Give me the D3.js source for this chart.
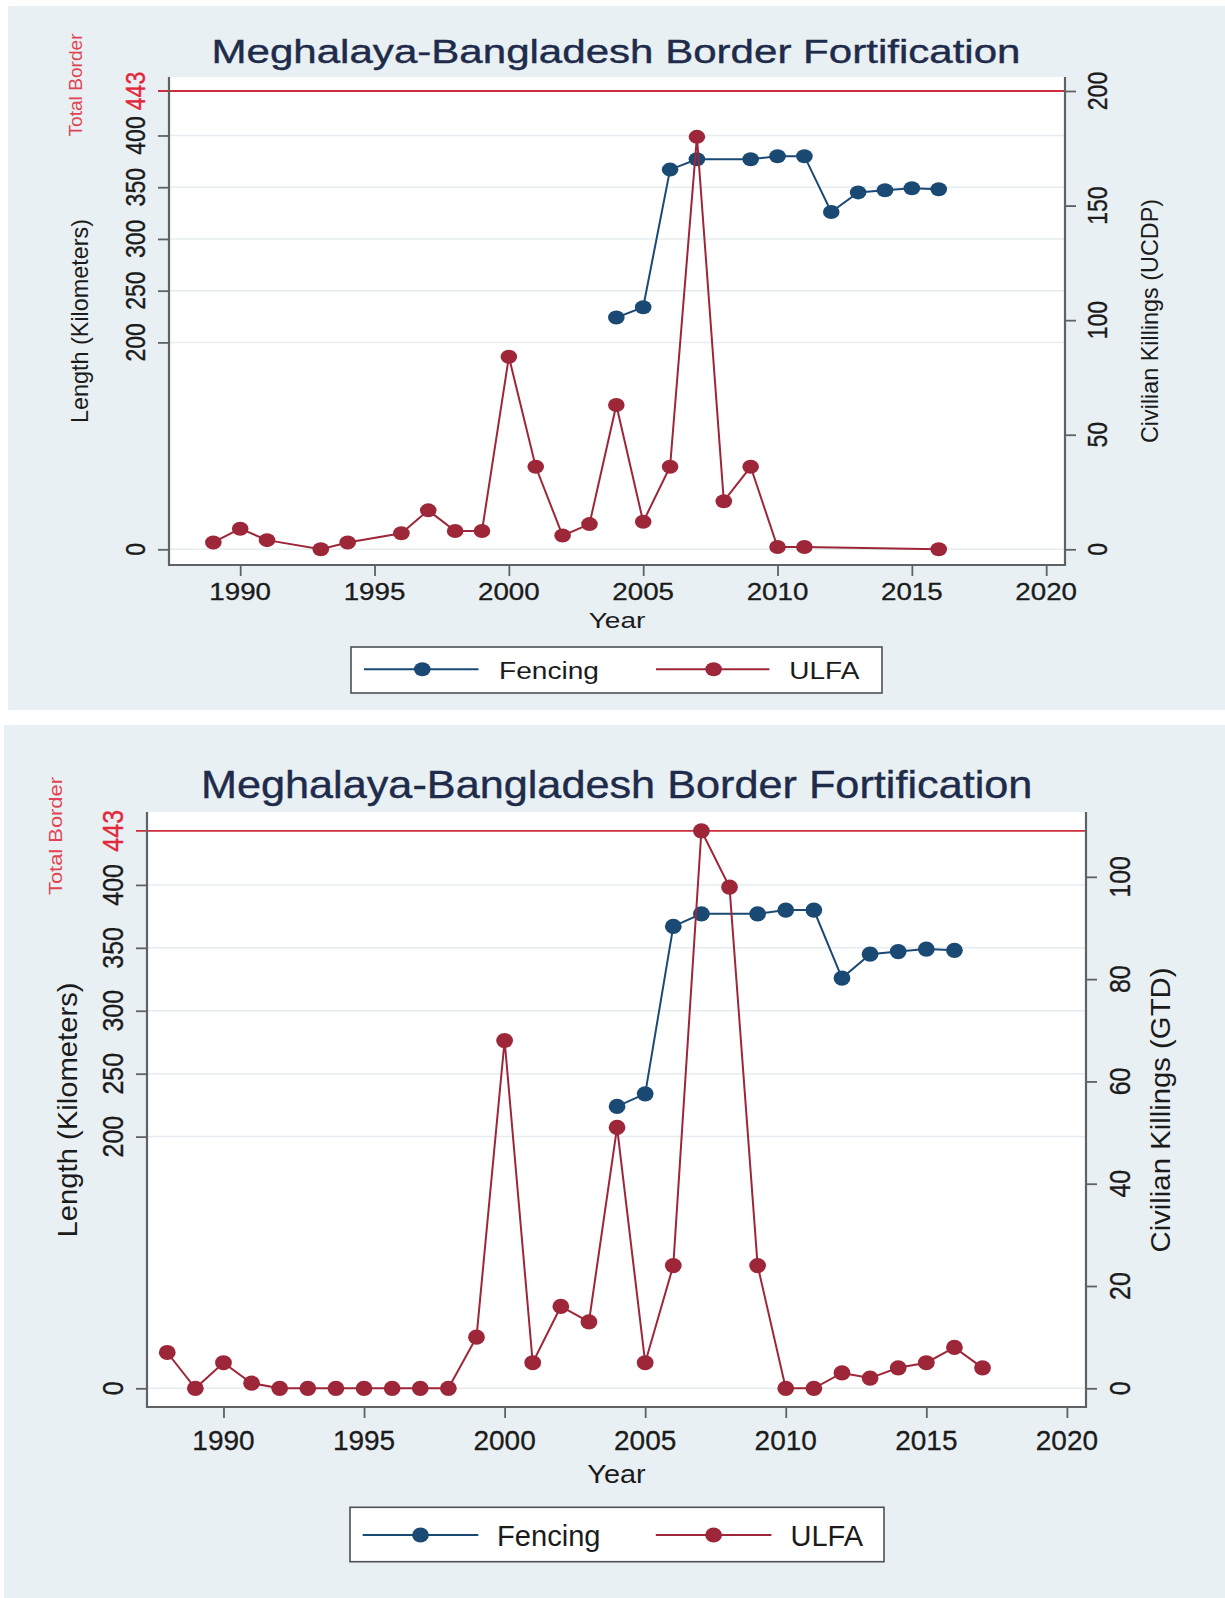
<!DOCTYPE html>
<html><head><meta charset="utf-8">
<script src="https://cdn.jsdelivr.net/npm/d3@7"></script>
<style>
body{margin:0;background:#fff}
svg{display:block}
text{font-family:"Liberation Sans",Arial,Helvetica,sans-serif}
</style>
</head><body>
<svg id="c" width="1225" height="1598"></svg>
<script>
// ---------------- DATA ----------------
const titleText = "Meghalaya-Bangladesh Border Fortification";
const seriesNames = ["Fencing", "ULFA"];

const fenceYears = [2004, 2005, 2006, 2007, 2009, 2010, 2011, 2012, 2013, 2014, 2015, 2016];
const fenceKm    = [224,  234,  367,  377,  377,  380,  380,  326,  345,  347,  349,  348];

const ucdpYears     = [1989,1990,1991,1993,1994,1996,1997,1998,1999,2000,2001,2002,2003,2004,2005,2006,2007,2008,2009,2010,2011,2016];
const ucdpKillings  = [3,   9,   4,   0,   3,   7,   17,  8,   8,   84,  36,  6,   11,  63,  12,  36,  180, 21,  36,  1,   1,   0];

const gtdYears    = [1988,1989,1990,1991,1992,1993,1994,1995,1996,1997,1998,1999,2000,2001,2002,2003,2004,2005,2006,2007,2008,2009,2010,2011,2012,2013,2014,2015,2016,2017];
const gtdKillings = [7,   0,   5,   1,   0,   0,   0,   0,   0,   0,   0,   10,  68,  5,   16,  13,  51,  5,   24,  109, 98,  24,  0,   0,   3,   2,   4,   5,   8,   4];

const kmTicks = [0, 200, 250, 300, 350, 400];
const totalBorderKm = 443;
const totalBorderLabel = "Total Border";
const yearTicks = [1990, 1995, 2000, 2005, 2010, 2015, 2020];
const ucdpTicks = [0, 50, 100, 150, 200];
const gtdTicks  = [0, 20, 40, 60, 80, 100];
const ucdpMax = 200;
const gtdMax = 109;
const leftTitle = "Length (Kilometers)";
const xTitle = "Year";
const ucdpTitle = "Civilian Killings (UCDP)";
const gtdTitle = "Civilian Killings (GTD)";

// ---------------- STYLE ----------------
const BG = "#e9f0f3";
const NAVY = "#1a4a73";
const MAROON = "#9d2638";
const BORDER_RED = "#cc2e3c";
const AXIS = "#5e6265";
const GRID = "#e6ecef";
const TXT = "#1b1b1b";
const TITLE = "#1e2b4a";

const svg = d3.select("#c");

function txt(g, s, o) {
  const t = g.append("text").text(s)
    .attr("transform", `translate(${o.x},${o.y}) scale(${o.sx || 1},1)` + (o.rot ? " rotate(-90)" : ""))
    .attr("font-size", o.size)
    .attr("text-anchor", o.anchor || "middle")
    .attr("fill", o.fill || TXT);
  if (o.dy) t.attr("dy", o.dy);
  if (o.len) t.attr("textLength", o.rot ? o.len : o.len / (o.sx || 1)).attr("lengthAdjust", "spacingAndGlyphs");
  if (o.stroke) t.attr("stroke", o.fill || TXT).attr("stroke-width", o.stroke);
  return t;
}

const panels = [
  {
    bg: [8, 6, 1225, 710], l: 169, r: 1065, t: 77, b: 565,
    xDom: [1987.35, 2020.7], y0: 549.3, yTop: 91, tick: 11,
    title: {x: 211.5, y: 63, size: 34, len: 809},
    xLab: {y: 600, size: 23.3, sx: 1.19},
    year: {x: 617, y: 628.3, size: 22.5, len: 56.7},
    yLab: {xl: 134.4, xr: 1097, size: 23, sx: 1.22},
    tb: {x: 75, y: 85, size: 16.5, len: 103, sx: 1.15},
    lt: {x: 82, y: 321, size: 23.4, len: 204},
    rt: {x: 1152, y: 321, size: 23.4, len: 244},
    leg: {box: [351, 647, 882, 693], ly: 669.3, tyb: 679, size: 23.3,
          items: [{x1: 364, x2: 478.5, mx: 422.3, tx: 499, tlen: 100}, {x1: 656, x2: 769.4, mx: 713.6, tx: 789.3, tlen: 70}]},
    mk: {rx: 8.3, ry: 7}, lw: 2,
    ulfaYears: ucdpYears, ulfaVals: ucdpKillings, rTicks: ucdpTicks, rMax: ucdpMax, rTitle: ucdpTitle
  },
  {
    bg: [4, 725, 1225, 1598], l: 147, r: 1086, t: 812, b: 1407,
    xDom: [1987.28, 2020.68], y0: 1388.3, yTop: 830.8, tick: 11,
    title: {x: 200.9, y: 798.3, size: 39.5, len: 831.5},
    xLab: {y: 1450, size: 28, sx: 1.0},
    year: {x: 616.5, y: 1483.3, size: 26, len: 58.3},
    yLab: {xl: 112.7, xr: 1120, size: 25, sx: 1.15},
    tb: {x: 55.4, y: 836, size: 17.5, len: 118, sx: 1.1},
    lt: {x: 69.2, y: 1110, size: 28.5, len: 255},
    rt: {x: 1162, y: 1110, size: 28.5, len: 285},
    leg: {box: [350, 1507.3, 884, 1561.7], ly: 1535, tyb: 1545.5, size: 29,
          items: [{x1: 362.7, x2: 478.3, mx: 420.5, tx: 497, tlen: 103.5}, {x1: 655.8, x2: 771.4, mx: 713.6, tx: 790.5, tlen: 72.5}]},
    mk: {rx: 8.4, ry: 7.6}, lw: 2,
    ulfaYears: gtdYears, ulfaVals: gtdKillings, rTicks: gtdTicks, rMax: gtdMax, rTitle: gtdTitle
  }
];

panels.forEach(p => {
  const g = svg.append("g");
  g.append("rect").attr("x", p.bg[0]).attr("y", p.bg[1]).attr("width", p.bg[2] - p.bg[0]).attr("height", p.bg[3] - p.bg[1]).attr("fill", BG);
  g.append("rect").attr("x", p.l).attr("y", p.t).attr("width", p.r - p.l).attr("height", p.b - p.t).attr("fill", "#fff");

  const x = d3.scaleLinear().domain(p.xDom).range([p.l, p.r]);
  const yL = d3.scaleLinear().domain([0, totalBorderKm]).range([p.y0, p.yTop]);
  const yR = d3.scaleLinear().domain([0, p.rMax]).range([p.y0, p.yTop]);

  // gridlines
  g.append("g").selectAll("line").data(kmTicks).join("line")
    .attr("x1", p.l).attr("x2", p.r).attr("y1", d => yL(d)).attr("y2", d => yL(d))
    .attr("stroke", GRID).attr("stroke-width", 1.5);

  // total border line
  g.append("line").attr("x1", p.l - p.tick).attr("x2", p.r).attr("y1", yL(totalBorderKm)).attr("y2", yL(totalBorderKm))
    .attr("stroke", BORDER_RED).attr("stroke-width", 1.8);

  // axes via d3 axis generators
  const ax = g.append("g").attr("transform", `translate(0,${p.b})`)
    .call(d3.axisBottom(x).tickValues(yearTicks).tickSize(p.tick).tickSizeOuter(0).tickFormat(() => ""));
  ax.select(".domain").remove();
  ax.selectAll("line").attr("stroke", AXIS).attr("stroke-width", 1.8);

  const axl = g.append("g").attr("transform", `translate(${p.l},0)`)
    .call(d3.axisLeft(yL).tickValues(kmTicks).tickSize(p.tick).tickSizeOuter(0).tickFormat(() => ""));
  axl.select(".domain").remove();
  axl.selectAll("line").attr("stroke", AXIS).attr("stroke-width", 1.8);

  const axr = g.append("g").attr("transform", `translate(${p.r},0)`)
    .call(d3.axisRight(yR).tickValues(p.rTicks).tickSize(p.tick).tickSizeOuter(0).tickFormat(() => ""));
  axr.select(".domain").remove();
  axr.selectAll("line").attr("stroke", AXIS).attr("stroke-width", 1.8);

  // axis lines
  g.append("path").attr("d", `M${p.l},${p.t}V${p.b}H${p.r}V${p.t}`).attr("fill", "none")
    .attr("stroke", AXIS).attr("stroke-width", 2.2);

  // tick labels
  yearTicks.forEach(d => txt(g, d3.format("d")(d), {x: x(d), y: p.xLab.y, size: p.xLab.size, sx: p.xLab.sx, stroke: 0.3}));
  kmTicks.forEach(d => txt(g, String(d), {x: p.yLab.xl, y: yL(d), size: p.yLab.size, sx: p.yLab.sx, rot: true, dy: "0.36em", stroke: 0.3}));
  txt(g, String(totalBorderKm), {x: p.yLab.xl, y: yL(totalBorderKm), size: p.yLab.size, sx: p.yLab.sx, rot: true, dy: "0.36em", fill: "#e2283a", stroke: 0.3});
  p.rTicks.forEach(d => txt(g, String(d), {x: p.yLab.xr, y: yR(d), size: p.yLab.size, sx: p.yLab.sx, rot: true, dy: "0.36em", stroke: 0.3}));
  txt(g, totalBorderLabel, {x: p.tb.x, y: p.tb.y, size: p.tb.size, sx: p.tb.sx, rot: true, dy: "0.36em", len: p.tb.len, fill: "#e04452"});

  // axis titles
  txt(g, leftTitle, {x: p.lt.x, y: p.lt.y, size: p.lt.size, rot: true, dy: "0.27em", len: p.lt.len});
  txt(g, p.rTitle, {x: p.rt.x, y: p.rt.y, size: p.rt.size, rot: true, dy: "0.27em", len: p.rt.len});
  txt(g, xTitle, {x: p.year.x, y: p.year.y, size: p.year.size, len: p.year.len});

  // title
  txt(g, titleText, {x: p.title.x, y: p.title.y, size: p.title.size, anchor: "start", len: p.title.len, fill: TITLE, stroke: 0.4});

  // series
  const fence = fenceYears.map((yr, i) => [yr, fenceKm[i]]);
  const ulfa = p.ulfaYears.map((yr, i) => [yr, p.ulfaVals[i]]);

  g.append("path").datum(fence)
    .attr("d", d3.line().x(d => x(d[0])).y(d => yL(d[1])))
    .attr("fill", "none").attr("stroke", NAVY).attr("stroke-width", p.lw);
  g.append("g").selectAll("ellipse").data(fence).join("ellipse")
    .attr("cx", d => x(d[0])).attr("cy", d => yL(d[1])).attr("rx", p.mk.rx).attr("ry", p.mk.ry).attr("fill", NAVY);

  g.append("path").datum(ulfa)
    .attr("d", d3.line().x(d => x(d[0])).y(d => yR(d[1])))
    .attr("fill", "none").attr("stroke", MAROON).attr("stroke-width", p.lw);
  g.append("g").selectAll("ellipse").data(ulfa).join("ellipse")
    .attr("cx", d => x(d[0])).attr("cy", d => yR(d[1])).attr("rx", p.mk.rx).attr("ry", p.mk.ry).attr("fill", MAROON);

  // legend
  const L = p.leg;
  g.append("rect").attr("x", L.box[0]).attr("y", L.box[1]).attr("width", L.box[2] - L.box[0]).attr("height", L.box[3] - L.box[1])
    .attr("fill", "#fff").attr("stroke", "#4d5052").attr("stroke-width", 1.6);
  const cols = [NAVY, MAROON];
  L.items.forEach((it, i) => {
    g.append("line").attr("x1", it.x1).attr("x2", it.x2).attr("y1", L.ly).attr("y2", L.ly).attr("stroke", cols[i]).attr("stroke-width", p.lw);
    g.append("ellipse").attr("cx", it.mx).attr("cy", L.ly).attr("rx", p.mk.rx).attr("ry", p.mk.ry).attr("fill", cols[i]);
    txt(g, seriesNames[i], {x: it.tx, y: L.tyb, size: L.size, anchor: "start", len: it.tlen});
  });
});
</script>
</body></html>
